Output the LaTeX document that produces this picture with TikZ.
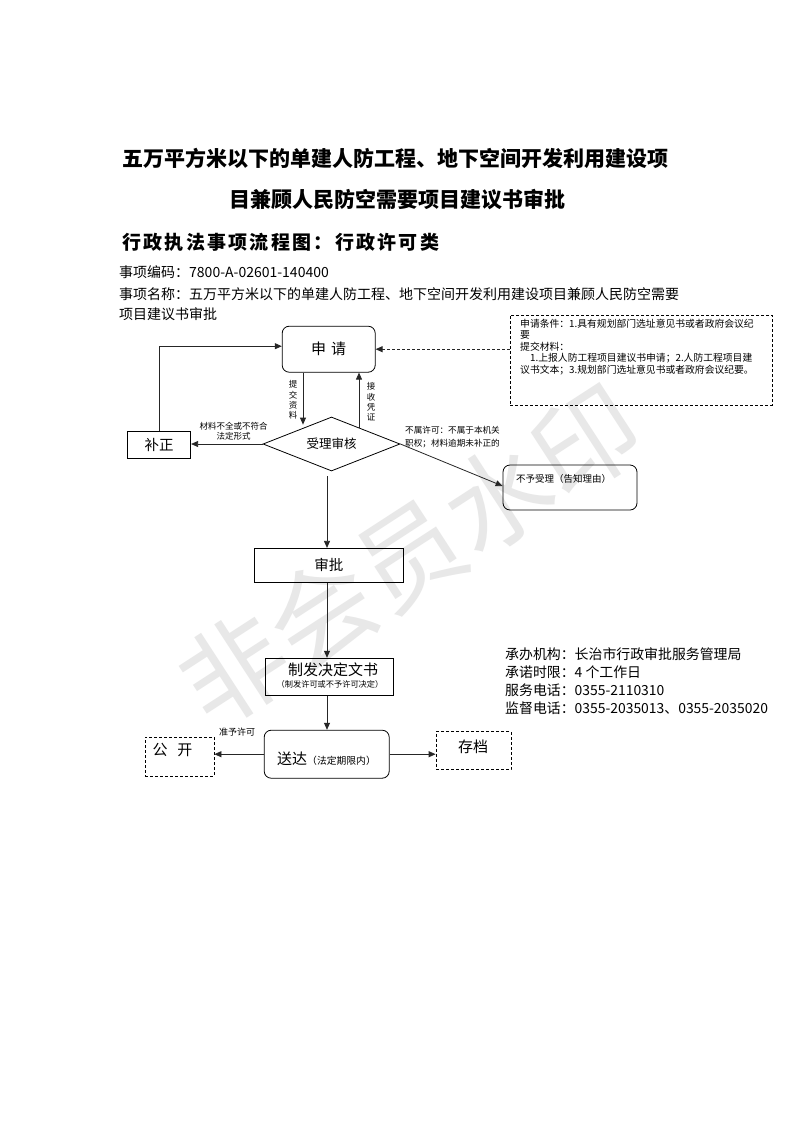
\documentclass[tikz,border=0pt]{standalone}
\usepackage{fontspec}
\setmainfont{Noto Sans CJK SC}
\newfontfamily\lsfont[LetterSpace=12]{Noto Sans CJK SC}
\usetikzlibrary{arrows.meta,shapes.geometric,calc}
\begin{document}
\begin{tikzpicture}[x=1pt,y=-1pt,
  line/.style={draw=black!85, line width=0.8pt},
  arr/.style={line, -{Triangle[length=7pt,width=6pt]}},
  box/.style={draw=black, line width=0.8pt, inner sep=0pt},
  rbox/.style={box, rounded corners=7pt},
  dbox/.style={box, dash pattern=on 3pt off 2pt},
  lbl/.style={inner sep=0pt, font=\fontsize{8.5}{10}\selectfont},
  vlbl/.style={inner sep=0pt, align=center, font=\fontsize{8.5}{10.3}\selectfont},
  info/.style={inner sep=0pt, anchor=west, font=\fontsize{13.9}{16}\selectfont},
  head/.style={inner sep=0pt, anchor=west, font=\fontsize{14}{16}\selectfont},
]
\useasboundingbox[fill=white] (0,0) rectangle (793,1122);

% watermark
\node[text=black!9, font=\fontsize{105}{105}\selectfont, rotate=33, inner sep=0] (wm) at (410,555) {非会员水印};

% titles
\node[inner sep=0, anchor=west, font=\fontsize{21}{24}\selectfont\bfseries] (t1) at (122,158) {五万平方米以下的单建人防工程、地下空间开发利用建设项};
\node[inner sep=0, font=\fontsize{21}{24}\selectfont\bfseries] (t2) at (397.5,200) {目兼顾人民防空需要项目建议书审批};
\node[inner sep=0, anchor=west, font=\lsfont\fontsize{19}{22}\selectfont\bfseries] (t3) at (122,242) {行政执法事项流程图：行政许可类};

\node[head] (h1) at (119,272) {事项编码：7800-A-02601-140400};
\node[head] (h2) at (119,294) {事项名称：五万平方米以下的单建人防工程、地下空间开发利用建设项目兼顾人民防空需要};
\node[head] (h3) at (119,314) {项目建议书审批};

% coordinates for vertical lines
\coordinate (xa) at (303,0);
\coordinate (xb) at (359,0);
\coordinate (vx) at (327,0);

% nodes
\node[rbox, minimum width=93, minimum height=46, font=\fontsize{15}{17}\selectfont] (sq) at (328.7,349.2) {申\hspace{5pt}请};
\node[dbox, minimum width=262, minimum height=90] (cond) at (641,360) {};
\node[anchor=north west, align=left, inner sep=0, font=\fontsize{9.8}{11.5}\selectfont] (condt) at (520,318.5) {申请条件：1.具有规划部门选址意见书或者政府会议纪\\要\\提交材料：\\\hspace*{10pt}1.上报人防工程项目建议书申请；2.人防工程项目建\\议书文本；3.规划部门选址意见书或者政府会议纪要。};

\node[diamond, aspect=2.5, draw=black, line width=0.8pt, minimum width=137, minimum height=54, inner sep=0, font=\fontsize{12.5}{14}\selectfont] (sl) at (331.5,444) {受理审核};
\node[box, minimum width=63.4, minimum height=26.6, font=\fontsize{14.5}{16}\selectfont] (bz) at (159,445) {补正};
\node[rbox, minimum width=134, minimum height=45] (by) at (570,487.5) {};
\node[anchor=west, inner sep=0, font=\fontsize{9.5}{11}\selectfont] (byt) at (516,479) {不予受理（告知理由）};

\node[box, minimum width=149, minimum height=34, font=\fontsize{14.5}{16}\selectfont] (sp) at (328.8,565.3) {审批};
\node[box, minimum width=128, minimum height=37] (zf) at (329.5,676.7) {};
\node[inner sep=0, font=\fontsize{15}{17}\selectfont] (zf1) at (333,670) {制发决定文书};
\node[inner sep=0, font=\fontsize{8.2}{10}\selectfont] (zf2) at (330,684) {（制发许可或不予许可决定）};

\node[rbox, minimum width=125, minimum height=48] (sd) at (326.7,754.2) {};
\node[anchor=base west, inner sep=0] (sdt) at (277,764.5) {{\fontsize{15}{17}\selectfont 送达}{\fontsize{9.8}{11}\selectfont （法定期限内）}};
\node[dbox, minimum width=69, minimum height=39] (gk) at (179.5,756.7) {};
\node[inner sep=0, font=\fontsize{15}{17}\selectfont] (gkt) at (172.5,750) {公\hspace{10pt}开};
\node[dbox, minimum width=75, minimum height=38] (cd) at (473.5,750.5) {};
\node[inner sep=0, font=\fontsize{15}{17}\selectfont] (cdt) at (473,746.5) {存档};

% labels
\node[vlbl] (tj) at (293,400) {提\\交\\资\\料};
\node[vlbl] (js) at (371,402) {接\\收\\凭\\证};
\node[lbl, align=center] (bzl) at (233.6,431.5) {材料不全或不符合\\法定形式};
\node[lbl, anchor=west, align=left, font=\fontsize{8.6}{12.5}\selectfont] (byl) at (405,437) {不属许可：不属于本机关\\职权；材料逾期未补正的};
\node[inner sep=0, font=\fontsize{9}{10}\selectfont] (zy) at (237,731.7) {准予许可};

% info
\node[info] (i1) at (505,654) {承办机构：长治市行政审批服务管理局};
\node[info] (i2) at (505,672.5) {承诺时限：4 个工作日};
\node[info] (i3) at (505,690.5) {服务电话：0355-2110310};
\node[info] (i4) at (505,708.5) {监督电话：0355-2035013、0355-2035020};

% connectors
\draw[arr] (sq.south -| xa) -- ($(sl.north -| xa)+(0,8)$);
\draw[arr] ($(sl.north -| xb)+(0,11)$) -- (sq.south -| xb);
\draw[arr, dash pattern=on 3pt off 2pt] (cond.west |- sq.east) -- (sq.east);
\draw[arr] (sl.west) -- (sl.west -| bz.east);
\draw[arr] (bz.north) |- ($(sq.west)+(0,-3)$);
\draw[arr] (sl.east) -- ($(by.west)+(0,-1.5)$);
\draw[arr] ($(sl.south -| vx)+(0,5)$) -- (sp.north -| vx);
\draw[arr] (sp.south -| vx) -- (zf.north -| vx);
\draw[arr] (zf.south -| vx) -- (sd.north -| vx);
\draw[arr] (sd.west) -- (sd.west -| gk.east);
\draw[arr] (sd.east) -- (sd.east -| cd.west);
\end{tikzpicture}
\end{document}
